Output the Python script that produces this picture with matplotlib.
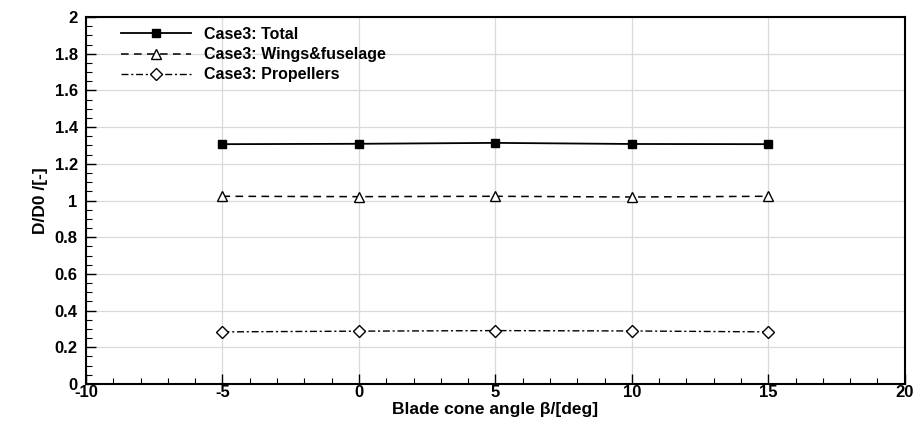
import matplotlib
matplotlib.use("Agg")
import matplotlib.pyplot as plt
from matplotlib.ticker import MultipleLocator

plt.rcParams['font.family'] = ['Liberation Sans', 'DejaVu Sans']
plt.rcParams['font.weight'] = 'bold'
plt.rcParams['axes.unicode_minus'] = False

beta = [-5, 0, 5, 10, 15]
total = [1.307, 1.309, 1.314, 1.308, 1.307]
wings = [1.023, 1.021, 1.023, 1.019, 1.023]
props = [0.284, 0.288, 0.291, 0.289, 0.284]

fig = plt.figure(figsize=(9.22, 4.23), dpi=100)
ax = fig.add_axes([0.0933, 0.0922, 0.888, 0.8676])

ax.plot(beta, total, '-', color='black', lw=1.3, marker='s', ms=6,
        mfc='black', label='Case3: Total')
ax.plot(beta, wings, '--', color='black', lw=1.1, marker='^', ms=7,
        mfc='white', label='Case3: Wings&fuselage', dashes=(5, 3.5))
ax.plot(beta, props, '-.', color='black', lw=1.0, marker='D', ms=6,
        mfc='white', label='Case3: Propellers', dashes=(5, 2, 1.5, 2))

ax.set_xlim(-10, 20)
ax.set_ylim(0, 2)
ax.xaxis.set_major_locator(MultipleLocator(5))
ax.xaxis.set_minor_locator(MultipleLocator(1))
ax.yaxis.set_minor_locator(MultipleLocator(0.05))
ax.set_yticks([0, 0.2, 0.4, 0.6, 0.8, 1, 1.2, 1.4, 1.6, 1.8, 2])
ax.set_yticklabels(['0', '0.2', '0.4', '0.6', '0.8', '1', '1.2', '1.4', '1.6', '1.8', '2'])
ax.tick_params(which='both', direction='in', labelsize=12)
ax.tick_params(axis='x', pad=1)
ax.tick_params(axis='y', pad=6)
ax.tick_params(which='major', length=7, width=1)
ax.tick_params(which='minor', length=4, width=0.8)
ax.grid(True, which='major', color='#d9d9d9', lw=0.9)
ax.set_axisbelow(True)
for s in ax.spines.values():
    s.set_linewidth(1.5)

ax.set_xlabel('Blade cone angle β/[deg]', fontsize=12.5, fontweight='bold', labelpad=1)
ax.set_ylabel('D/D0 /[-]', fontsize=12.5, fontweight='bold', labelpad=5)

ax.legend(loc='upper left', frameon=False, prop={'size': 11.5, 'weight': 'bold'},
          handlelength=4.4, handletextpad=0.8, labelspacing=0.32,
          borderaxespad=0.0, bbox_to_anchor=(0.035, 0.99))

fig.savefig('out.png', dpi=100)
